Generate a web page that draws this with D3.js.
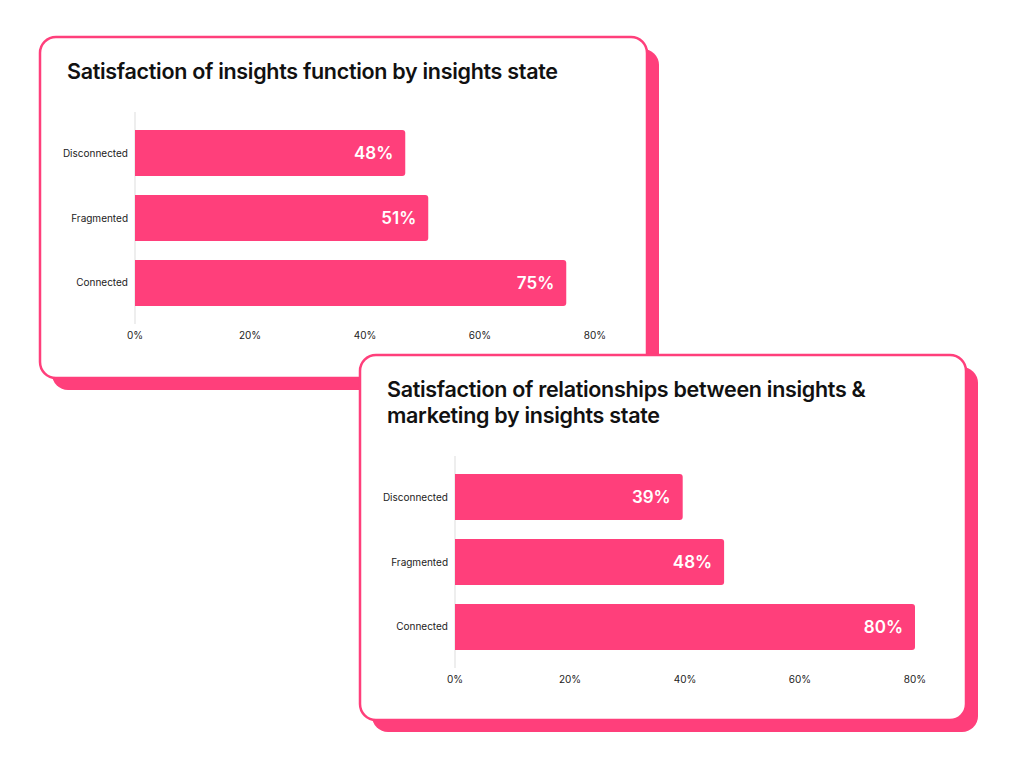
<!DOCTYPE html>
<html>
<head>
<meta charset="utf-8">
<script src="https://cdn.jsdelivr.net/npm/d3@7.9.0/dist/d3.min.js"></script>
<style>
  body { margin: 0; background: #fff; }
  svg { display: block; font-family: Inter, "Noto Sans", sans-serif; }
</style>
</head>
<body>
<svg width="1024" height="768"></svg>
<script>
const categories = ['Disconnected', 'Fragmented', 'Connected'];
const functionValues = [47, 51, 75];
const functionLabels = ['48%', '51%', '75%'];
const relationValues = [39.6, 46.8, 80];
const relationLabels = ['39%', '48%', '80%'];
const ticks = [0, 20, 40, 60, 80];

const pink = '#ff3f7b';
const svg = d3.select('svg');

function drawCard(cfg) {
  const g = svg.append('g');
  // shadow block behind the card
  g.append('rect')
    .attr('x', cfg.x + 12).attr('y', cfg.y + 12)
    .attr('width', cfg.w).attr('height', cfg.h)
    .attr('rx', 16).attr('fill', pink);
  g.append('rect')
    .attr('x', cfg.x).attr('y', cfg.y)
    .attr('width', cfg.w).attr('height', cfg.h)
    .attr('rx', 16).attr('fill', '#fff')
    .attr('stroke', pink).attr('stroke-width', 2.5);

  cfg.title.forEach((line, i) => {
    g.append('text')
      .attr('x', cfg.x + 27).attr('y', cfg.y + 42 + i * 26)
      .attr('font-size', 21.5).attr('font-weight', 600)
      .attr('fill', '#111').attr('letter-spacing', -0.3)
      .text(line);
  });

  const x = d3.scaleLinear().domain([0, 80]).range([cfg.x0, cfg.x0 + 460]);
  const y = d3.scaleBand().domain(categories)
    .range([cfg.y0 + 18, cfg.y0 + 194]).paddingInner(0.292).paddingOuter(0);

  g.append('line')
    .attr('x1', x(0)).attr('x2', x(0))
    .attr('y1', cfg.y0).attr('y2', cfg.y0 + 212)
    .attr('stroke', '#ddd');

  categories.forEach((c, i) => {
    const bw = x(cfg.values[i]) - x(0);
    const r = 3;
    const top = y(c), h = y.bandwidth(), left = x(0);
    g.append('path')
      .attr('d', `M${left},${top}H${left + bw - r}Q${left + bw},${top} ${left + bw},${top + r}` +
        `V${top + h - r}Q${left + bw},${top + h} ${left + bw - r},${top + h}H${left}Z`)
      .attr('fill', pink);
    g.append('text')
      .attr('x', left + bw - 12).attr('y', top + h / 2)
      .attr('dy', '0.35em').attr('text-anchor', 'end')
      .attr('fill', '#fff').attr('font-size', 17).attr('font-weight', 600)
      .text(cfg.labels[i]);
    g.append('text')
      .attr('x', left - 7).attr('y', top + h / 2)
      .attr('dy', '0.35em').attr('text-anchor', 'end')
      .attr('fill', '#222').attr('font-size', 10)
      .text(c);
  });

  ticks.forEach(t => {
    g.append('text')
      .attr('x', x(t)).attr('y', cfg.y0 + 227)
      .attr('text-anchor', 'middle')
      .attr('fill', '#222').attr('font-size', 10)
      .text(t + '%');
  });
}

drawCard({
  x: 40, y: 37, w: 607, h: 341,
  title: ['Satisfaction of insights function by insights state'],
  x0: 135, y0: 112,
  values: functionValues, labels: functionLabels
});

drawCard({
  x: 360, y: 355, w: 606, h: 365,
  title: ['Satisfaction of relationships between insights &', 'marketing by insights state'],
  x0: 455, y0: 456,
  values: relationValues, labels: relationLabels
});
</script>
</body>
</html>
